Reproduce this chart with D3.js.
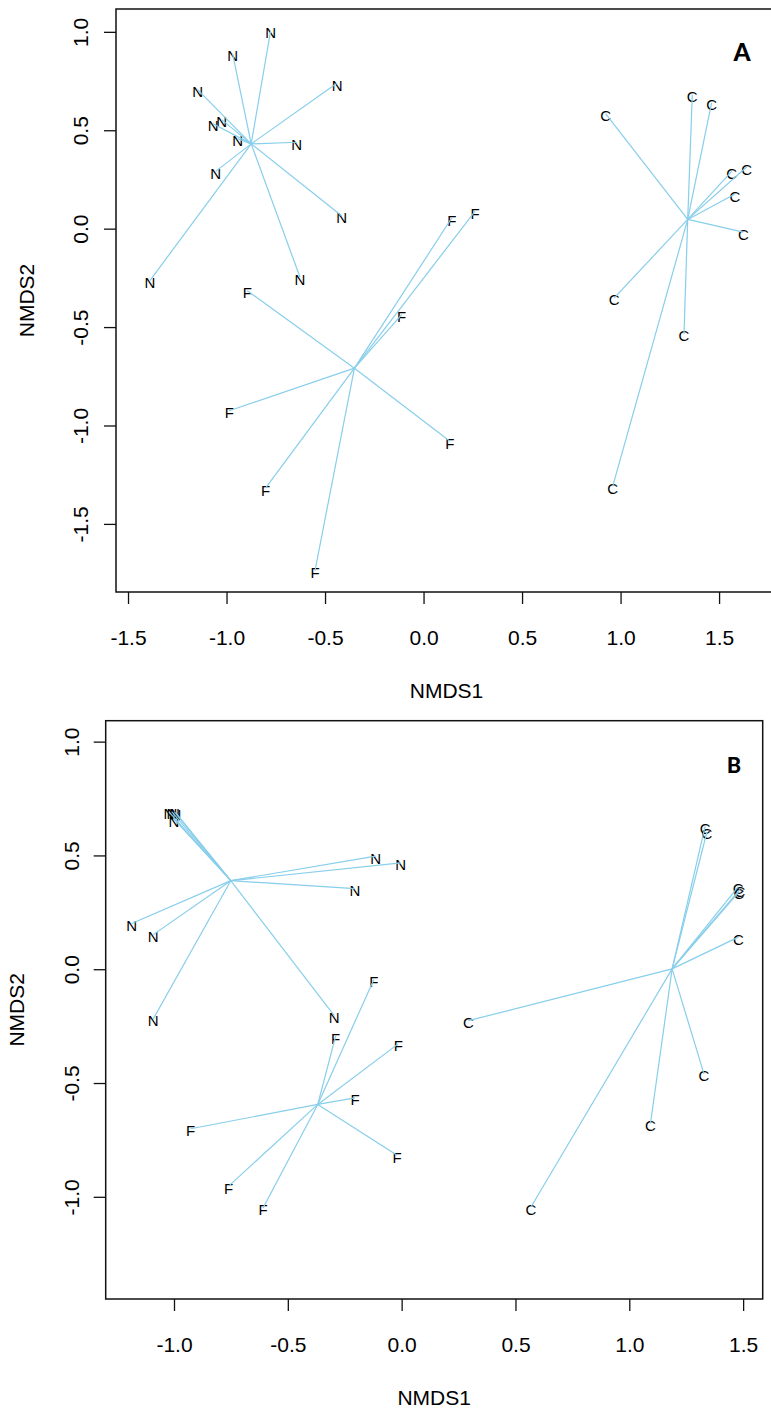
<!DOCTYPE html>
<html>
<head>
<meta charset="utf-8">
<script src="https://cdn.jsdelivr.net/npm/d3@7"></script>
<style>
  body { margin: 0; background: #fff; }
  svg text { font-family: "Liberation Sans", Arial, sans-serif; }
</style>
</head>
<body>
<div id="chart"></div>
<script>
// NMDS scores per site, grouped by treatment
const aN = [[-0.776, 1.006], [-0.969, 0.888], [-0.438, 0.740], [-1.147, 0.706], [-1.025, 0.554], [-1.068, 0.533],
            [-0.944, 0.457], [-0.644, 0.439], [-1.055, 0.291], [-0.416, 0.066], [-0.627, -0.247], [-1.389, -0.264]];
const aF = [[-0.895, -0.315], [-0.986, -0.925], [-0.802, -1.318], [-0.551, -1.738],
            [0.134, -1.080], [-0.111, -0.437], [0.143, 0.054], [0.261, 0.088]];
const aC = [[0.924, 0.584], [1.364, 0.681], [1.462, 0.639], [1.564, 0.291], [1.640, 0.313],
            [1.581, 0.176], [1.623, -0.018], [0.968, -0.352], [1.322, -0.535], [0.960, -1.309]];

const bN = [[-1.022, 0.691], [-1.009, 0.691], [-0.998, 0.691], [-0.992, 0.687], [-1.000, 0.660], [-0.114, 0.497],
            [-0.004, 0.467], [-0.205, 0.354], [-1.186, 0.201], [-1.091, 0.152], [-1.091, -0.218], [-0.296, -0.204]];
const bF = [[-0.122, -0.045], [-0.290, -0.294], [-0.015, -0.328], [-0.205, -0.565],
            [-0.927, -0.701], [-0.020, -0.817], [-0.760, -0.953], [-0.609, -1.049]];
const bC = [[1.333, 0.628], [1.341, 0.603], [1.478, 0.362], [1.486, 0.351], [1.482, 0.340],
            [1.479, 0.141], [0.293, -0.226], [1.328, -0.460], [1.093, -0.678], [0.568, -1.045]];

const xTicksA = [-1.5, -1.0, -0.5, 0.0, 0.5, 1.0, 1.5];
const yTicksA = [-1.5, -1.0, -0.5, 0.0, 0.5, 1.0];
const xTicksB = [-1.0, -0.5, 0.0, 0.5, 1.0, 1.5];
const yTicksB = [-1.0, -0.5, 0.0, 0.5, 1.0];

const W = 771, H = 1409;
const svg = d3.select("#chart").append("svg")
  .attr("width", W).attr("height", H);

const panels = [
  { tag: "A", groups: { N: aN, F: aF, C: aC }, xt: xTicksA, yt: yTicksA,
    xd: [-1.561, 1.794], yd: [-1.846, 1.116],
    left: 116, right: 777, top: 9, bottom: 592,
    ylabX: 28, ytitleX: 34, tagX: 742, tagY: 61, tagSize: 29 },
  { tag: "B", groups: { N: bN, F: bF, C: bC }, xt: xTicksB, yt: yTicksB,
    xd: [-1.300, 1.586], yd: [-1.449, 1.092],
    left: 105.7, right: 762.7, top: 720.7, bottom: 1299,
    ylabX: 26.7, ytitleX: 24, tagX: 734, tagY: 773, tagSize: 25 }
];

const fmt = d => d.toFixed(1);

panels.forEach(p => {
  let x = d3.scaleLinear().domain(p.xd).range([p.left, p.right]);
  let y = d3.scaleLinear().domain(p.yd).range([p.bottom, p.top]);

  // plot box
  svg.append("rect")
    .attr("x", p.left).attr("y", p.top)
    .attr("width", p.right - p.left).attr("height", p.bottom - p.top)
    .attr("fill", "none").attr("stroke", "#111").attr("stroke-width", 1.5);

  // x axis
  let gx = svg.append("g")
    .attr("transform", `translate(0,${p.bottom})`)
    .call(d3.axisBottom(x).tickValues(p.xt).tickFormat(fmt).tickSize(12).tickPadding(26));
  gx.select(".domain").remove();
  gx.selectAll("line").attr("stroke", "#111").attr("stroke-width", 1.3);
  gx.selectAll("text").attr("font-size", 21).attr("fill", "#000")
    .style("font-family", '"Liberation Sans", Arial, sans-serif');

  // y axis, labels rotated like base R
  let gy = svg.append("g")
    .attr("transform", `translate(${p.left},0)`)
    .call(d3.axisLeft(y).tickValues(p.yt).tickFormat(fmt).tickSize(12));
  gy.select(".domain").remove();
  gy.selectAll("line").attr("stroke", "#111").attr("stroke-width", 1.3);
  gy.selectAll("text")
    .attr("x", 0).attr("dy", null)
    .attr("text-anchor", "middle")
    .attr("transform", `translate(${-p.ylabX},0) rotate(-90)`)
    .attr("font-size", 21).attr("fill", "#000")
    .style("font-family", '"Liberation Sans", Arial, sans-serif');

  // axis titles
  svg.append("text")
    .attr("x", (p.left + p.right) / 2).attr("y", p.bottom + 105.5)
    .attr("text-anchor", "middle").attr("font-size", 21)
    .text("NMDS1");
  svg.append("text")
    .attr("transform", `translate(${p.ytitleX},${(p.top + p.bottom) / 2}) rotate(-90)`)
    .attr("text-anchor", "middle").attr("font-size", 21)
    .text("NMDS2");

  // panel tag
  svg.append("text")
    .attr("x", p.tagX).attr("y", p.tagY)
    .attr("text-anchor", "middle")
    .attr("font-size", p.tagSize).attr("font-weight", "bold")
    .style("font-family", "Carlito, Lato, 'Open Sans', sans-serif")
    .text(p.tag);

  let plot = svg.append("g");
  // site labels
  Object.entries(p.groups).forEach(([name, pts]) => {
    plot.selectAll(null)
      .data(pts)
      .enter()
      .append("text")
      .attr("x", d => x(d[0]))
      .attr("y", d => y(d[1]) + 7.5)
      .attr("text-anchor", "middle")
      .attr("font-size", 15)
      .attr("fill", "#000")
      .text(name);
  });
  // spider lines to the group centroid
  Object.entries(p.groups).forEach(([name, pts]) => {
    let cx = d3.mean(pts, d => d[0]);
    let cy = d3.mean(pts, d => d[1]);
    plot.selectAll(null)
      .data(pts)
      .enter()
      .append("line")
      .attr("x1", x(cx)).attr("y1", y(cy))
      .attr("x2", d => x(d[0])).attr("y2", d => y(d[1]))
      .attr("stroke", "#87CEEB").attr("stroke-width", 1.2);
  });
});
</script>
</body>
</html>
